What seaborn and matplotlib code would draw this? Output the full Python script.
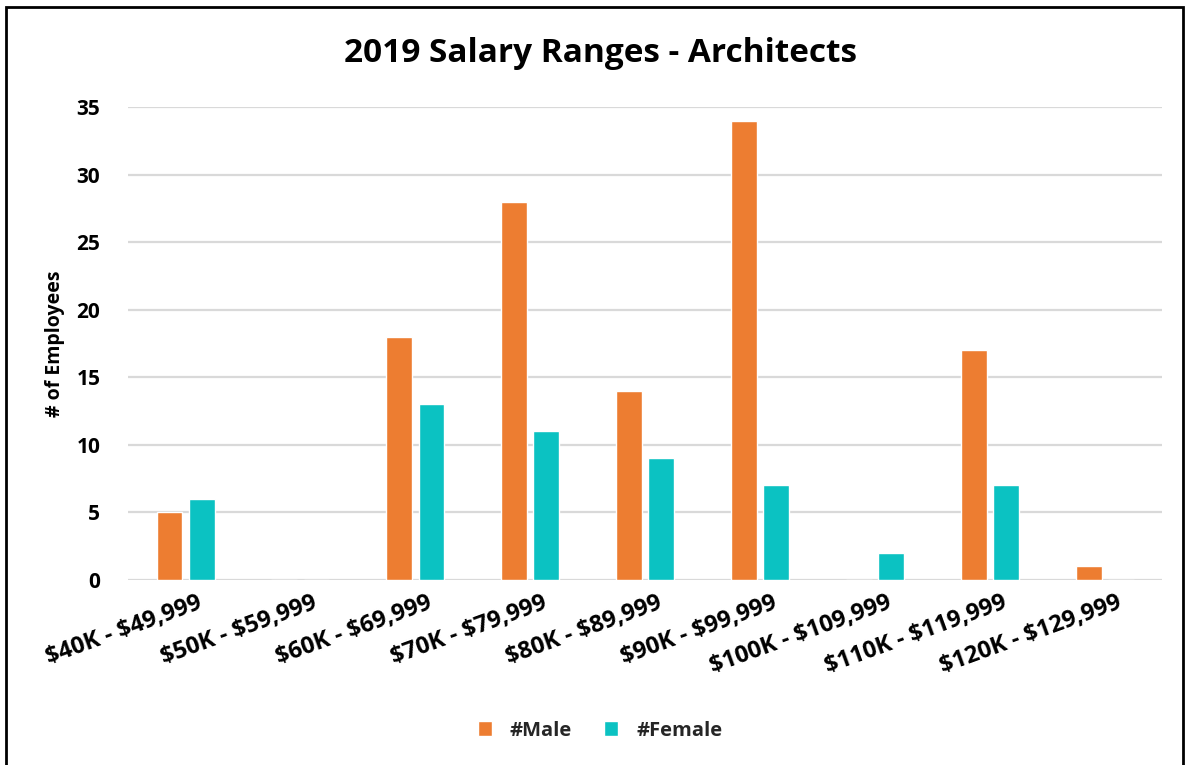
# 2019 salary ranges for architects, male vs female head count
import pandas as pd
import matplotlib.pyplot as plt
import matplotlib.transforms as mtransforms
import seaborn as sns
from matplotlib.patches import Rectangle

# --- data --- #
salary_ranges = ["$40K - $49,999", "$50K - $59,999", "$60K - $69,999",
                 "$70K - $79,999", "$80K - $89,999", "$90K - $99,999",
                 "$100K - $109,999", "$110K - $119,999", "$120K - $129,999"]
male_counts = [5, 0, 18, 28, 14, 34, 0, 17, 1]
female_counts = [6, 0, 13, 11, 9, 7, 2, 7, 0]
series_names = ["#Male", "#Female"]

## long table for seaborn
df = pd.DataFrame({
    "range": salary_ranges * 2,
    "count": male_counts + female_counts,
    "series": [series_names[0]] * len(salary_ranges) + [series_names[1]] * len(salary_ranges),
})

# --- plot --- #
sns.set_theme(style="white")
plt.rcParams['font.family'] = ['Open Sans', 'DejaVu Sans']
plt.rcParams['text.parse_math'] = False  # keep the $ signs literal

fig = plt.figure(figsize=(11.86, 7.65), dpi=100)
ax = fig.add_axes([0.108, 0.242, 0.872, 0.618])

sns.barplot(data=df, x="range", y="count", hue="series", order=salary_ranges,
            hue_order=series_names, palette=["#ED7D31", "#0BC2C2"], saturation=1,
            width=0.56, gap=0.2, ax=ax, legend=True)

## axes styling
ax.set_ylim(0, 35)
ax.set_yticks(range(0, 36, 5))
ax.yaxis.grid(True, color="#D9D9D9", linewidth=1.6)
ax.set_axisbelow(True)
for s in ax.spines.values():
    s.set_visible(False)
ax.tick_params(axis="both", length=0, labelcolor="black")
ax.tick_params(axis="y", pad=20, labelsize=15)
ax.tick_params(axis="x", pad=8, labelsize=17)
for lbl in ax.get_yticklabels():
    lbl.set_fontweight("bold")
shift = mtransforms.ScaledTranslation(12 / 100, 0, fig.dpi_scale_trans)
for lbl in ax.get_xticklabels():
    lbl.set_fontweight("bold")
    lbl.set_rotation(20)
    lbl.set_ha("right")
    lbl.set_rotation_mode("anchor")
    lbl.set_transform(lbl.get_transform() + shift)

ax.set_xlabel("")
ax.set_ylabel("# of Employees", fontsize=14, fontweight="bold", labelpad=8,
              color="black")

## title
fig.text(0.506, 0.93, "2019 Salary Ranges - Architects", ha="center", va="center",
         fontsize=24, fontweight="bold", color="black")

## legend at the bottom
handles, labels = ax.get_legend_handles_labels()
ax.legend_.remove()
fig.legend(handles, labels, loc="center", bbox_to_anchor=(0.506, 0.045), ncol=2,
           frameon=False, prop={"size": 14.5, "weight": "bold"},
           handlelength=0.7, handleheight=0.7, columnspacing=1.6, handletextpad=0.9)

## outer border like the source screenshot
fig.patches.append(Rectangle((6 / 1186, -0.05), 1177 / 1186, 1.05 - 7 / 765,
                             transform=fig.transFigure, fill=False,
                             edgecolor="black", linewidth=2))

plt.savefig("out.png", dpi=100)
plt.close()
